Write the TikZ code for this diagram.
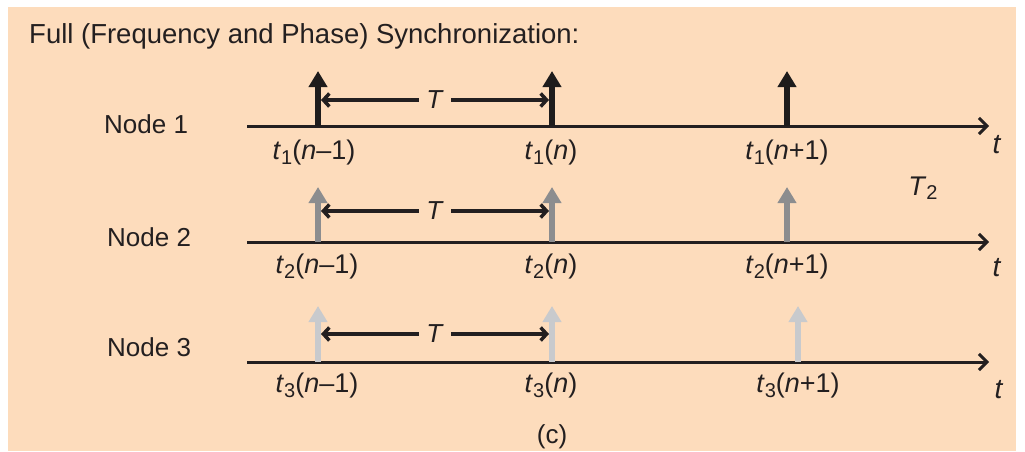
\documentclass[tikz,border=0pt]{standalone}
\usepackage{fontspec}
\setmainfont{Liberation Sans}
\usetikzlibrary{arrows.meta}

\definecolor{peach}{RGB}{253,220,188}
\definecolor{ink}{RGB}{35,31,32}
\definecolor{pulsedark}{RGB}{30,28,28}
\definecolor{pulsemid}{RGB}{140,141,143}
\definecolor{pulselight}{RGB}{200,202,205}
\newcommand{\tsub}[1]{\raisebox{-0.32ex}{\fontsize{20}{20}\selectfont #1}}

\begin{document}
\begin{tikzpicture}[x=1pt,y=1pt,yscale=-1,xscale=1,
  every node/.style={text=ink,inner sep=0pt,font=\fontsize{26}{30}\selectfont},
  axis/.style={draw=ink,line width=3pt,-{Straight Barb[length=8pt,width=16pt]}},
  pulse/.style={line width=6pt,-{Triangle[length=16pt,width=18pt]}},
  period/.style={draw=ink,line width=3.5pt,{Straight Barb[length=6pt,width=13pt]}-{Straight Barb[length=6pt,width=13pt]}},
  tlabel/.style={fill=peach,inner xsep=7pt,inner ysep=2pt},
  timelabel/.style={anchor=center,font=\fontsize{27}{30}\selectfont}]
%set picture size, and peach panel
\useasboundingbox (0,0) rectangle (1025,451);
\fill[peach] (8,7) rectangle (1016,451);

% Title
\node (title) [anchor=west,font=\fontsize{27.5}{31}\selectfont] at (29,36) {Full (Frequency and Phase) Synchronization:};

% Node names
\node (node1) [anchor=west] at (104,124) {Node 1};
\node (node2) [anchor=west] at (107,237) {Node 2};
\node (node3) [anchor=west] at (107,347) {Node 3};

% Time axes
\coordinate (ax1s) at (247,126); \coordinate (ax1e) at (989,126);
\coordinate (ax2s) at (247,242); \coordinate (ax2e) at (989,242);
\coordinate (ax3s) at (247,362); \coordinate (ax3e) at (989,362);
\draw[axis] (ax1s) -- (ax1e);
\draw[axis] (ax2s) -- (ax2e);
\draw[axis] (ax3s) -- (ax3e);

% Pulses, Node 1
\coordinate (b11) at (318,126); \coordinate (p11) at (318,71);
\coordinate (b12) at (552,126); \coordinate (p12) at (552,71);
\coordinate (b13) at (787,126); \coordinate (p13) at (787,71);
\draw[pulse,draw=pulsedark] (b11) -- (p11);
\draw[pulse,draw=pulsedark] (b12) -- (p12);
\draw[pulse,draw=pulsedark] (b13) -- (p13);
% Pulses, Node 2
\coordinate (b21) at (318,242); \coordinate (p21) at (318,187);
\coordinate (b22) at (552,242); \coordinate (p22) at (552,187);
\coordinate (b23) at (787,242); \coordinate (p23) at (787,187);
\draw[pulse,draw=pulsemid] (b21) -- (p21);
\draw[pulse,draw=pulsemid] (b22) -- (p22);
\draw[pulse,draw=pulsemid] (b23) -- (p23);
% Pulses, Node 3
\coordinate (b31) at (318,362); \coordinate (p31) at (318,306);
\coordinate (b32) at (552,362); \coordinate (p32) at (552,306);
\coordinate (b33) at (798,362); \coordinate (p33) at (798,306);
\draw[pulse,draw=pulselight] (b31) -- (p31);
\draw[pulse,draw=pulselight] (b32) -- (p32);
\draw[pulse,draw=pulselight] (b33) -- (p33);

% Periods
\coordinate (T1a) at (321,100); \coordinate (T1b) at (549,100);
\coordinate (T2a) at (321,211); \coordinate (T2b) at (549,211);
\coordinate (T3a) at (321,334); \coordinate (T3b) at (549,334);
\draw[period] (T1a) -- node (per1) [tlabel] {\textit{T}} (T1b);
\draw[period] (T2a) -- node (per2) [tlabel] {\textit{T}} (T2b);
\draw[period] (T3a) -- node (per3) [tlabel] {\textit{T}} (T3b);

% Text Node
\node (l11) [timelabel] at (314,153) {\textit{t}\tsub{1}(\textit{n}–1)};
\node (l12) [timelabel] at (551,153) {\textit{t}\tsub{1}(\textit{n})};
\node (l13) [timelabel] at (787,153) {\textit{t}\tsub{1}(\textit{n}+1)};
\node (l21) [timelabel] at (317,267) {\textit{t}\tsub{2}(\textit{n}–1)};
\node (l22) [timelabel] at (551,267) {\textit{t}\tsub{2}(\textit{n})};
\node (l23) [timelabel] at (787,267) {\textit{t}\tsub{2}(\textit{n}+1)};
\node (l31) [timelabel] at (317,386) {\textit{t}\tsub{3}(\textit{n}–1)};
\node (l32) [timelabel] at (551,386) {\textit{t}\tsub{3}(\textit{n})};
\node (l33) [timelabel] at (798,386) {\textit{t}\tsub{3}(\textit{n}+1)};

% Axis names
\node (t1) [font=\fontsize{28}{30}\selectfont] at (997,145) {\textit{t}};
\node (t2) [font=\fontsize{28}{30}\selectfont] at (997,268) {\textit{t}};
\node (t3) [font=\fontsize{28}{30}\selectfont] at (999,390) {\textit{t}};
\node (T2) [font=\fontsize{27}{30}\selectfont] at (923,188) {\textit{T}\tsub{2}};

% Caption
\node (cap) at (552,437) {(c)};
\end{tikzpicture}
\end{document}
